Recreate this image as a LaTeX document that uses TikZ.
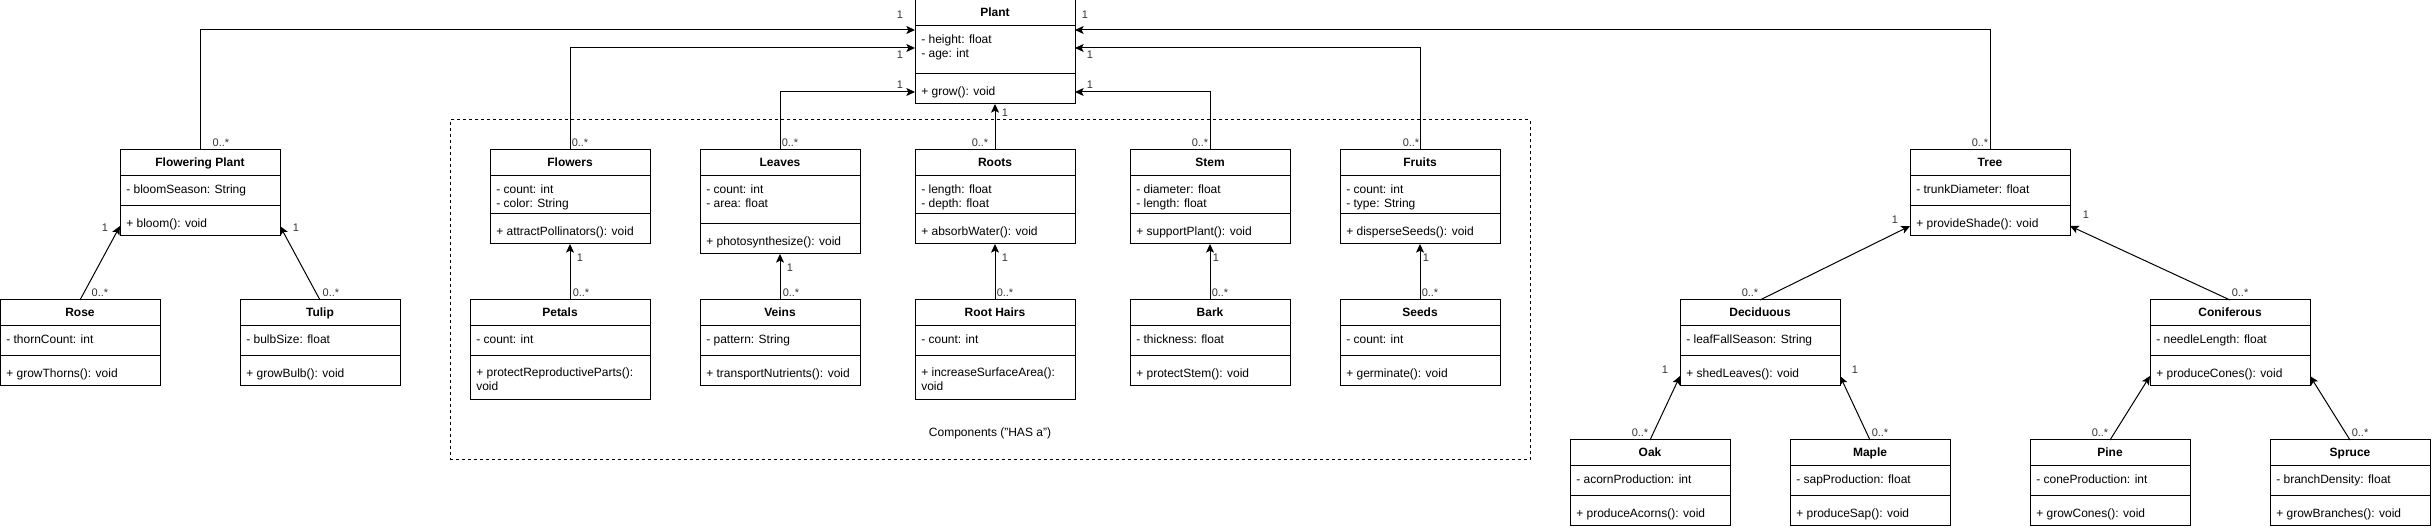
\documentclass[tikz,border=0pt]{standalone}
\usepackage{fontspec}
\setmainfont{Liberation Sans}
\usetikzlibrary{calc,arrows.meta}

\tikzset{
  cbox/.style={draw=black, line width=0.75pt, fill=white, rectangle, inner sep=0pt, outer sep=0pt},
  sepline/.style={draw=black, line width=0.75pt},
  ctitle/.style={font=\fontsize{9}{11}\selectfont\bfseries, inner sep=0pt, anchor=base},
  cattr/.style={font=\fontsize{9}{11}\selectfont, inner sep=0pt, anchor=base west},
  mult/.style={font=\fontsize{8.25}{10}\selectfont, text=black!80, inner sep=0pt, anchor=base},
  conn/.style={draw=black, line width=0.75pt, -{Stealth[length=6.5pt,width=6pt,inset=1.5pt]}},
  groupbox/.style={draw=black, line width=0.75pt, dash pattern=on 2.25pt off 2.25pt, rectangle, inner sep=0pt, outer sep=0pt},
  grouplabel/.style={font=\fontsize{9}{11}\selectfont, inner sep=0pt, anchor=base}
}

% name, x, y, width, height, separator offset, title
\newcommand\umlbox[7]{%
  \node[cbox, minimum width={(#4)*0.75pt}, minimum height={(#5)*0.75pt}, anchor=north west] (#1) at (#2,#3) {};
  \draw[sepline] ($(#1.north west)+(0,26)$) -- ($(#1.north east)+(0,26)$);
  \draw[sepline] ($(#1.north west)+(0,#6)$) -- ($(#1.north east)+(0,#6)$);
  \node[ctitle] (#1-t) at ($(#1.north)+(0,17)$) {#7};
}
% node name, parent, centre offset, text
\newcommand\umlline[4]{%
  \node[cattr] (#1) at ($(#2.north west)+(6,#3+4)$) {#4};
}
% node name, x, y (centre), text
\newcommand\multlabel[4]{%
  \node[mult] (#1) at (#2,#3+4) {#4};
}

\begin{document}
\begin{tikzpicture}[x=0.75pt,y=-0.75pt]
\useasboundingbox (0,0) rectangle (2432,530);

% component group
\node[groupbox, minimum width={1080*0.75pt}, minimum height={340*0.75pt}, anchor=north west] (comp) at (450,120) {};
\node[grouplabel] (comp-label) at (990,437) {Components ("HAS a")};

% ---------- classes ----------
\umlbox{plant}{915}{0}{160}{104}{74}{Plant}
\umlline{plant-a1}{plant}{40}{- height: float}
\umlline{plant-a2}{plant}{54}{- age: int}
\umlline{plant-m1}{plant}{92}{+ grow(): void}

\umlbox{fp}{120}{150}{160}{86}{56}{Flowering Plant}
\umlline{fp-a1}{fp}{40}{- bloomSeason: String}
\umlline{fp-m1}{fp}{74}{+ bloom(): void}

\umlbox{rose}{0}{300}{160}{86}{56}{Rose}
\umlline{rose-a1}{rose}{40}{- thornCount: int}
\umlline{rose-m1}{rose}{74}{+ growThorns(): void}

\umlbox{tulip}{240}{300}{160}{86}{56}{Tulip}
\umlline{tulip-a1}{tulip}{40}{- bulbSize: float}
\umlline{tulip-m1}{tulip}{74}{+ growBulb(): void}

\umlbox{flowers}{490}{150}{160}{94}{64}{Flowers}
\umlline{flowers-a1}{flowers}{40}{- count: int}
\umlline{flowers-a2}{flowers}{54}{- color: String}
\umlline{flowers-m1}{flowers}{82}{+ attractPollinators(): void}

\umlbox{leaves}{700}{150}{160}{104}{74}{Leaves}
\umlline{leaves-a1}{leaves}{40}{- count: int}
\umlline{leaves-a2}{leaves}{54}{- area: float}
\umlline{leaves-m1}{leaves}{92}{+ photosynthesize(): void}

\umlbox{roots}{915}{150}{160}{94}{64}{Roots}
\umlline{roots-a1}{roots}{40}{- length: float}
\umlline{roots-a2}{roots}{54}{- depth: float}
\umlline{roots-m1}{roots}{82}{+ absorbWater(): void}

\umlbox{stem}{1130}{150}{160}{94}{64}{Stem}
\umlline{stem-a1}{stem}{40}{- diameter: float}
\umlline{stem-a2}{stem}{54}{- length: float}
\umlline{stem-m1}{stem}{82}{+ supportPlant(): void}

\umlbox{fruits}{1340}{150}{160}{94}{64}{Fruits}
\umlline{fruits-a1}{fruits}{40}{- count: int}
\umlline{fruits-a2}{fruits}{54}{- type: String}
\umlline{fruits-m1}{fruits}{82}{+ disperseSeeds(): void}

\umlbox{petals}{470}{300}{180}{100}{56}{Petals}
\umlline{petals-a1}{petals}{40}{- count: int}
\umlline{petals-m1}{petals}{73}{+ protectReproductiveParts():}
\umlline{petals-m2}{petals}{87}{void}

\umlbox{veins}{700}{300}{160}{86}{56}{Veins}
\umlline{veins-a1}{veins}{40}{- pattern: String}
\umlline{veins-m1}{veins}{74}{+ transportNutrients(): void}

\umlbox{roothairs}{915}{300}{160}{100}{56}{Root Hairs}
\umlline{roothairs-a1}{roothairs}{40}{- count: int}
\umlline{roothairs-m1}{roothairs}{73}{+ increaseSurfaceArea():}
\umlline{roothairs-m2}{roothairs}{87}{void}

\umlbox{bark}{1130}{300}{160}{86}{56}{Bark}
\umlline{bark-a1}{bark}{40}{- thickness: float}
\umlline{bark-m1}{bark}{74}{+ protectStem(): void}

\umlbox{seeds}{1340}{300}{160}{86}{56}{Seeds}
\umlline{seeds-a1}{seeds}{40}{- count: int}
\umlline{seeds-m1}{seeds}{74}{+ germinate(): void}

\umlbox{tree}{1910}{150}{160}{86}{56}{Tree}
\umlline{tree-a1}{tree}{40}{- trunkDiameter: float}
\umlline{tree-m1}{tree}{74}{+ provideShade(): void}

\umlbox{decid}{1680}{300}{160}{86}{56}{Deciduous}
\umlline{decid-a1}{decid}{40}{- leafFallSeason: String}
\umlline{decid-m1}{decid}{74}{+ shedLeaves(): void}

\umlbox{conif}{2150}{300}{160}{86}{56}{Coniferous}
\umlline{conif-a1}{conif}{40}{- needleLength: float}
\umlline{conif-m1}{conif}{74}{+ produceCones(): void}

\umlbox{oak}{1570}{440}{160}{86}{56}{Oak}
\umlline{oak-a1}{oak}{40}{- acornProduction: int}
\umlline{oak-m1}{oak}{74}{+ produceAcorns(): void}

\umlbox{maple}{1790}{440}{160}{86}{56}{Maple}
\umlline{maple-a1}{maple}{40}{- sapProduction: float}
\umlline{maple-m1}{maple}{74}{+ produceSap(): void}

\umlbox{pine}{2030}{440}{160}{86}{56}{Pine}
\umlline{pine-a1}{pine}{40}{- coneProduction: int}
\umlline{pine-m1}{pine}{74}{+ growCones(): void}

\umlbox{spruce}{2270}{440}{160}{86}{56}{Spruce}
\umlline{spruce-a1}{spruce}{40}{- branchDensity: float}
\umlline{spruce-m1}{spruce}{74}{+ growBranches(): void}

% ---------- connectors ----------
\draw[conn] (fp.north) |- ($(plant.north west)+(0,30)$);
\draw[conn] (flowers.north) |- ($(plant.north west)+(0,48)$);
\draw[conn] (leaves.north) |- ($(plant.north west)+(0,92)$);
\draw[conn] (roots.north) -- (plant.south);
\draw[conn] (stem.north) |- ($(plant.north east)+(0,92)$);
\draw[conn] (fruits.north) |- ($(plant.north east)+(0,48)$);
\draw[conn] (tree.north) |- ($(plant.north east)+(0,30)$);

\draw[conn] (flowers.south |- petals.north) -- (flowers.south);
\draw[conn] (veins.north) -- (leaves.south);
\draw[conn] (roothairs.north) -- (roots.south);
\draw[conn] (bark.north) -- (stem.south);
\draw[conn] (seeds.north) -- (fruits.south);

\draw[conn] (rose.north) -- ($(fp.south west)+(0,-10)$);
\draw[conn] (tulip.north) -- ($(fp.south east)+(0,-10)$);

\draw[conn] (decid.north) -- ($(tree.south west)+(0,-10)$);
\draw[conn] (conif.north) -- ($(tree.south east)+(0,-10)$);
\draw[conn] (oak.north) -- ($(decid.south west)+(0,-10)$);
\draw[conn] (maple.north) -- ($(decid.south east)+(0,-10)$);
\draw[conn] (pine.north) -- ($(conif.south west)+(0,-10)$);
\draw[conn] (spruce.north) -- ($(conif.south east)+(0,-10)$);

% ---------- multiplicities ----------
\multlabel{l1}{900}{15}{1}
\multlabel{l2}{900}{55}{1}
\multlabel{l3}{900}{85}{1}
\multlabel{l4}{1085}{15}{1}
\multlabel{l5}{1090}{55}{1}
\multlabel{l6}{1090}{85}{1}
\multlabel{l7}{1005}{113}{1}

\multlabel{s1}{221}{143}{0..*}
\multlabel{s2}{580}{143}{0..*}
\multlabel{s3}{790}{143}{0..*}
\multlabel{s4}{980}{143}{0..*}
\multlabel{s5}{1200}{143}{0..*}
\multlabel{s6}{1411}{143}{0..*}
\multlabel{s7}{1980}{143}{0..*}

\multlabel{c1}{580}{258}{1}
\multlabel{c2}{790}{268}{1}
\multlabel{c3}{1005}{258}{1}
\multlabel{c4}{1216}{258}{1}
\multlabel{c5}{1426}{258}{1}
\multlabel{d1}{581}{293}{0..*}
\multlabel{d2}{791}{293}{0..*}
\multlabel{d3}{1005}{293}{0..*}
\multlabel{d4}{1220}{293}{0..*}
\multlabel{d5}{1430}{293}{0..*}

\multlabel{f1}{105}{228}{1}
\multlabel{f2}{296}{228}{1}
\multlabel{f3}{100}{293}{0..*}
\multlabel{f4}{331}{293}{0..*}

\multlabel{t1}{1895}{220}{1}
\multlabel{t2}{2086}{215}{1}
\multlabel{t3}{1750}{293}{0..*}
\multlabel{t4}{2240}{293}{0..*}
\multlabel{t5}{1665}{370}{1}
\multlabel{t6}{1640}{433}{0..*}
\multlabel{t7}{1855}{370}{1}
\multlabel{t8}{1880}{433}{0..*}
\multlabel{t9}{2100}{433}{0..*}
\multlabel{t10}{2360}{433}{0..*}
\end{tikzpicture}
\end{document}
